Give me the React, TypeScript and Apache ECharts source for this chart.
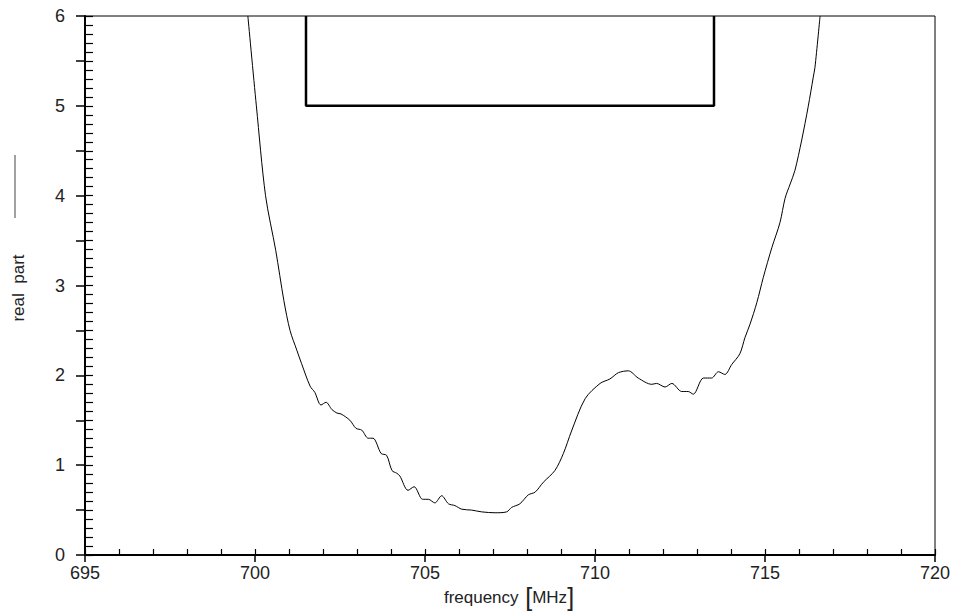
import React, { useEffect, useRef } from "react";
import * as echarts from "echarts";

// frequency in MHz
const freq = [
  699.79, 700.04, 700.31, 700.61, 700.85, 701.03, 701.23, 701.37, 701.62, 701.76,
  701.94, 702.09, 702.26, 702.41, 702.53, 702.79, 702.97, 703.14, 703.33, 703.47,
  703.71, 703.87, 704.03, 704.17, 704.26, 704.5, 704.68, 704.93, 705.1, 705.29,
  705.49, 705.69, 705.88, 706.08, 706.37, 706.67, 707.06, 707.4, 707.55, 707.79,
  708.04, 708.24, 708.48, 708.82, 709.07, 709.31, 709.71, 710.15, 710.44, 710.69,
  710.98, 711.27, 711.67, 711.81, 712.06, 712.26, 712.55, 712.74, 712.89, 713.19,
  713.43, 713.63, 713.82, 714.02, 714.26, 714.41, 714.56, 714.76, 714.95, 715.2,
  715.44, 715.59, 715.74, 715.88, 716.08, 716.27, 716.42, 716.47, 716.62,
];
// real part
const realPart = [
  6.0, 5.0, 4.0, 3.39, 2.83, 2.5, 2.28, 2.13, 1.88, 1.81,
  1.67, 1.7, 1.62, 1.58, 1.57, 1.5, 1.41, 1.39, 1.3, 1.3,
  1.13, 1.11, 0.94, 0.91, 0.88, 0.72, 0.76, 0.62, 0.62, 0.58,
  0.66, 0.57, 0.55, 0.51, 0.5, 0.48, 0.47, 0.48, 0.53, 0.57,
  0.67, 0.7, 0.81, 0.94, 1.13, 1.38, 1.74, 1.91, 1.96, 2.03,
  2.05, 1.97, 1.9, 1.91, 1.87, 1.91, 1.82, 1.82, 1.79, 1.97,
  1.97, 2.04, 2.01, 2.12, 2.24, 2.42, 2.57, 2.81, 3.09, 3.42,
  3.7, 3.97, 4.13, 4.28, 4.62, 4.99, 5.32, 5.43, 6.0,
];
// mask (limit box)
const maskFreq = [701.5, 701.5, 713.5, 713.5];
const maskValue = [6, 5, 5, 6];

const xMin = 695;
const xMax = 720;
const yMin = 0;
const yMax = 6;

const FONT = "Liberation Sans";

export default function App() {
  const ref = useRef<HTMLDivElement>(null);
  useEffect(() => {
    if (!ref.current) return;
    const chart = echarts.init(ref.current, undefined, { renderer: "svg" });
    const curve = freq.map((f, i) => [f, realPart[i]]);
    const mask = maskFreq.map((f, i) => [f, maskValue[i]]);
    chart.setOption({
      animation: false,
      backgroundColor: "#fff",
      grid: {
        left: 85,
        right: 19,
        top: 16,
        bottom: 58,
        show: true,
        borderColor: "#000",
        borderWidth: 1,
        backgroundColor: "transparent",
      },
      xAxis: [
        {
          type: "value",
          min: xMin,
          max: xMax,
          interval: 5,
          position: "bottom",
          axisLine: { show: true, onZero: false, lineStyle: { color: "#000", width: 2 } },
          axisTick: { show: true, inside: false, length: 7, lineStyle: { color: "#000", width: 1.5 } },
          axisLabel: { show: true, margin: 9, color: "#222", fontSize: 18, fontFamily: FONT },
          splitLine: { show: false },
        },
        {
          type: "value",
          min: xMin,
          max: xMax,
          interval: 1,
          position: "bottom",
          axisLine: { show: false, onZero: false },
          axisTick: { show: true, inside: true, length: 6, lineStyle: { color: "#000", width: 1.2 } },
          axisLabel: { show: false },
          splitLine: { show: false },
        },
      ],
      yAxis: [
        {
          type: "value",
          min: yMin,
          max: yMax,
          interval: 0.5,
          position: "left",
          axisLine: { show: true, onZero: false, lineStyle: { color: "#000", width: 2 } },
          axisTick: { show: true, inside: false, length: 9, lineStyle: { color: "#000", width: 1.5 } },
          axisLabel: {
            show: true,
            margin: 20,
            color: "#222",
            fontSize: 18,
            fontFamily: FONT,
            formatter: (v: number) => (Math.abs(v - Math.round(v)) < 1e-6 ? String(Math.round(v)) : ""),
          },
          splitLine: { show: false },
        },
        {
          type: "value",
          min: yMin,
          max: yMax,
          interval: 0.1,
          position: "left",
          axisLine: { show: false, onZero: false },
          axisTick: { show: true, inside: true, length: 8, lineStyle: { color: "#000", width: 1.2 } },
          axisLabel: { show: false },
          splitLine: { show: false },
        },
      ],
      graphic: [
        {
          type: "text",
          x: 18,
          y: 288,
          rotation: Math.PI / 2,
          style: {
            text: "real  part",
            fill: "#222",
            font: `17px "${FONT}"`,
            textAlign: "center",
            textVerticalAlign: "middle",
          },
        },
        {
          type: "line",
          shape: { x1: 15, y1: 155, x2: 15, y2: 218 },
          style: { stroke: "#444", lineWidth: 1 },
        },
        {
          type: "text",
          x: 509,
          y: 597,
          style: {
            text: "{a|frequency}  {b|[}{a|MHz}{b|]}",
            textAlign: "center",
            textVerticalAlign: "middle",
            rich: {
              a: { fontSize: 17, fontFamily: FONT, fill: "#222", color: "#222" },
              b: { fontSize: 25, fontFamily: FONT, fill: "#222", color: "#222" },
            },
          },
        },
      ],
      series: [
        {
          type: "line",
          name: "real part",
          xAxisIndex: 0,
          yAxisIndex: 0,
          data: curve,
          showSymbol: false,
          symbol: "none",
          smooth: 0.3,
          clip: true,
          lineStyle: { color: "#000", width: 1 },
        },
        {
          type: "line",
          name: "mask",
          xAxisIndex: 0,
          yAxisIndex: 0,
          data: mask,
          showSymbol: false,
          symbol: "none",
          clip: true,
          lineStyle: { color: "#000", width: 2.5 },
        },
      ],
    });
    return () => chart.dispose();
  }, []);
  return (
    <div
      ref={ref}
      style={{ position: "absolute", left: 0, top: 0, width: 954, height: 613 }}
    />
  );
}
